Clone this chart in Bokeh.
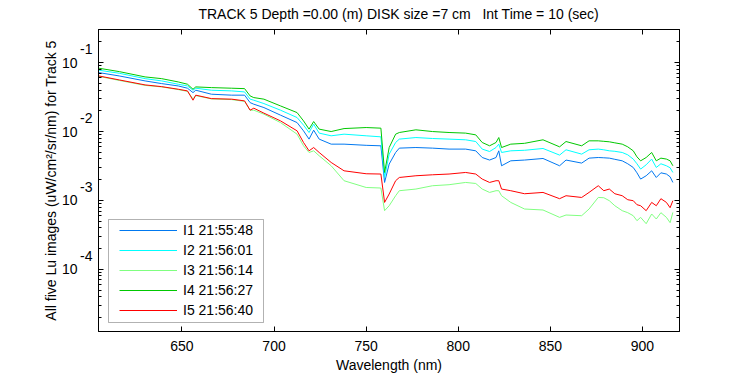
from bokeh.plotting import figure
from bokeh.models import (Range1d, LogAxis, LinearAxis, FixedTicker, LogScale,
                          Legend, LegendItem, BoxAnnotation)
from bokeh.embed import file_html
from bokeh.resources import INLINE

# ---------------- data ----------------
wavelength = [605, 616, 630, 639, 648, 653, 656, 657.5, 666, 677,
              684, 687, 689, 694.5, 703.5, 712.5, 716, 719, 721.5, 724.5,
              731, 738, 750, 758, 760, 762.5, 766, 768, 777, 786,
              795, 804, 809.5, 813, 817, 820.5, 822, 823.5, 828.5, 836,
              846, 855, 858.5, 867, 871, 876, 879, 882, 885, 889,
              892, 895, 897, 899, 902, 905, 907.5, 910, 913, 915,
              916.5]

# values given as exponents (log10 of Lu, uW/cm^2/sr/nm)
i1_log10 = [-1.145, -1.193, -1.265, -1.304, -1.338, -1.371, -1.435, -1.400, -1.458, -1.472,
            -1.472, -1.580, -1.603, -1.652, -1.762, -1.870, -1.990, -2.110, -1.980, -2.110,
            -2.183, -2.183, -2.200, -2.207, -2.739, -2.472, -2.304, -2.241, -2.232, -2.241,
            -2.255, -2.255, -2.280, -2.377, -2.414, -2.377, -2.280, -2.497, -2.425, -2.414,
            -2.391, -2.497, -2.414, -2.458, -2.386, -2.377, -2.381, -2.386, -2.403, -2.425,
            -2.468, -2.522, -2.599, -2.690, -2.642, -2.570, -2.667, -2.599, -2.617, -2.657,
            -2.739]
i2_log10 = [-1.110, -1.154, -1.232, -1.265, -1.313, -1.338, -1.400, -1.371, -1.400, -1.410,
            -1.425, -1.530, -1.545, -1.594, -1.690, -1.797, -1.907, -2.014, -1.893, -2.023,
            -2.062, -2.038, -2.062, -2.077, -2.667, -2.328, -2.159, -2.110, -2.087, -2.101,
            -2.110, -2.120, -2.145, -2.255, -2.290, -2.232, -2.183, -2.304, -2.280, -2.272,
            -2.246, -2.342, -2.265, -2.328, -2.265, -2.255, -2.265, -2.280, -2.287, -2.304,
            -2.338, -2.400, -2.468, -2.545, -2.483, -2.400, -2.522, -2.468, -2.497, -2.526,
            -2.594]
i3_log10 = [-1.200, -1.258, -1.330, -1.352, -1.391, -1.417, -1.526, -1.478, -1.526, -1.536,
            -1.562, -1.690, -1.690, -1.748, -1.870, -2.038, -2.207, -2.304, -2.280, -2.352,
            -2.497, -2.714, -2.812, -2.820, -3.149, -3.077, -2.932, -2.859, -2.835, -2.787,
            -2.772, -2.739, -2.754, -2.835, -2.884, -2.859, -2.859, -2.932, -3.029, -3.125,
            -3.139, -3.246, -3.212, -3.222, -3.125, -2.957, -2.961, -3.004, -3.077, -3.149,
            -3.178, -3.222, -3.294, -3.246, -3.338, -3.197, -3.270, -3.178, -3.246, -3.323,
            -3.174]
i4_log10 = [-1.081, -1.130, -1.207, -1.232, -1.280, -1.313, -1.386, -1.352, -1.362, -1.371,
            -1.377, -1.483, -1.507, -1.530, -1.628, -1.725, -1.845, -1.965, -1.855, -1.965,
            -2.000, -1.957, -1.942, -1.951, -2.594, -2.232, -2.038, -2.014, -1.975, -2.000,
            -2.014, -2.023, -2.048, -2.159, -2.207, -2.159, -2.087, -2.232, -2.183, -2.171,
            -2.120, -2.222, -2.145, -2.207, -2.135, -2.135, -2.142, -2.149, -2.164, -2.183,
            -2.222, -2.280, -2.367, -2.425, -2.377, -2.304, -2.425, -2.386, -2.400, -2.425,
            -2.497]
i5_log10 = [-1.193, -1.251, -1.323, -1.348, -1.386, -1.410, -1.545, -1.472, -1.522, -1.530,
            -1.555, -1.690, -1.661, -1.733, -1.845, -1.990, -2.159, -2.280, -2.232, -2.304,
            -2.449, -2.570, -2.613, -2.617, -3.029, -2.907, -2.714, -2.667, -2.642, -2.628,
            -2.617, -2.594, -2.617, -2.690, -2.739, -2.714, -2.714, -2.835, -2.859, -2.903,
            -2.884, -2.975, -2.932, -2.957, -2.884, -2.787, -2.859, -2.835, -2.903, -2.932,
            -2.990, -3.004, -3.062, -3.077, -3.149, -3.029, -3.077, -2.975, -3.029, -3.106,
            -3.004]

series_names = ["I1 21:55:48", "I2 21:56:01", "I3 21:56:14", "I4 21:56:27", "I5 21:56:40"]
series_colors = ["#0078f0", "#00ffff", "#80ff80", "#00c800", "#ff0000"]
series_log10 = [i1_log10, i2_log10, i3_log10, i4_log10, i5_log10]

x_ticks = [650, 700, 750, 800, 850, 900]
y_major = [1e-1, 1e-2, 1e-3, 1e-4]
y_exponents = ["-1", "-2", "-3", "-4"]
y_minor = [m * 10.0 ** e for e in range(-5, 0) for m in range(2, 10)]

title_text = "TRACK 5 Depth =0.00 (m) DISK size =7 cm\u00a0\u00a0 Int Time = 10 (sec)"
x_label = "Wavelength (nm)"
y_label = "All five Lu images (uW/cm\u00b2/sr/nm) for Track 5"

FONT = "Liberation Sans"
FS = "14px"

x_lo, x_hi = 604.7, 920.1
y_lo, y_hi = 1.25e-5, 0.303
sup_shift = 10 ** -0.1986   # raises the exponent labels (superscript look)

p = figure(width=750, height=375, y_axis_type="log",
           x_range=Range1d(x_lo, x_hi), y_range=Range1d(y_lo, y_hi),
           output_backend="svg", toolbar_location=None,
           min_border_left=98, min_border_right=71,
           min_border_top=29, min_border_bottom=44)
p.title = None
p.extra_y_ranges = {"sup": Range1d(y_lo * sup_shift, y_hi * sup_shift)}
p.extra_y_scales = {"sup": LogScale()}
p.background_fill_color = "white"
p.border_fill_color = "white"
p.outline_line_color = "black"
p.grid.visible = False

yt = FixedTicker(ticks=y_major, minor_ticks=y_minor)
xt = FixedTicker(ticks=x_ticks)


def style_axis(ax):
    ax.axis_line_color = "black"
    ax.major_tick_in = 5
    ax.major_tick_out = 0
    ax.minor_tick_in = 3
    ax.minor_tick_out = 0
    ax.major_tick_line_color = "black"
    ax.minor_tick_line_color = "black"
    ax.major_label_text_font = FONT
    ax.major_label_text_font_size = FS
    ax.major_label_text_color = "black"
    ax.axis_label_text_font = FONT
    ax.axis_label_text_font_size = FS
    ax.axis_label_text_font_style = "normal"
    ax.axis_label_text_color = "black"


def label_only(ax):
    style_axis(ax)
    ax.axis_line_color = None
    ax.major_tick_line_color = None
    ax.minor_tick_line_color = None
    ax.major_tick_in = 0
    ax.minor_tick_in = 0


xa = p.xaxis[0]
xa.ticker = xt
style_axis(xa)
xa.minor_tick_line_color = None
xa.major_label_standoff = 9
xa.axis_label = x_label
xa.axis_label_standoff = 3

# left: ticks axis (nearest frame), then exponent labels, then "10" labels + axis title
ya = p.yaxis[0]
ya.ticker = yt
style_axis(ya)
ya.major_label_overrides = {v: "" for v in y_major}
ya.major_label_standoff = 0

exp_axis = LogAxis(y_range_name="sup", ticker=FixedTicker(ticks=y_major, minor_ticks=[]))
label_only(exp_axis)
exp_axis.major_label_overrides = {v: e for v, e in zip(y_major, y_exponents)}
exp_axis.major_label_standoff = 6
p.add_layout(exp_axis, "left")

base_axis = LogAxis(ticker=FixedTicker(ticks=y_major, minor_ticks=[]))
label_only(base_axis)
base_axis.major_label_overrides = {v: "10" for v in y_major}
base_axis.major_label_standoff = 0
base_axis.axis_label = y_label
base_axis.axis_label_standoff = 0
p.add_layout(base_axis, "left")

ra = LogAxis(ticker=yt)
style_axis(ra)
ra.major_label_overrides = {v: "" for v in y_major}
ra.major_label_standoff = 0
p.add_layout(ra, "right")

# top axis carries the chart title as its label
ta = LinearAxis(ticker=xt)
style_axis(ta)
ta.major_label_overrides = {v: "" for v in x_ticks}
ta.minor_tick_line_color = None
ta.major_label_standoff = 0
ta.axis_label = "\u00a0" * 5 + title_text
ta.axis_label_standoff = 8
p.add_layout(ta, "above")

renderers = []
for logs, col in zip(series_log10, series_colors):
    vals = [10.0 ** v for v in logs]
    r = p.line(wavelength, vals, line_color=col, line_width=1)
    renderers.append(r)

box = BoxAnnotation(left=10, right=165, bottom=9, top=112,
                    left_units="screen", right_units="screen",
                    bottom_units="screen", top_units="screen",
                    fill_color="white", fill_alpha=1.0,
                    line_color="black", line_width=1)
p.add_layout(box)

legend = Legend(items=[LegendItem(label=n, renderers=[r]) for n, r in zip(series_names, renderers)],
                location=(21, 11), padding=0, spacing=0, margin=0,
                glyph_width=58, glyph_height=20, label_height=20, label_standoff=6,
                border_line_alpha=0, background_fill_alpha=0,
                label_text_font=FONT, label_text_font_size=FS, label_text_color="black")
p.add_layout(legend)

open("out.html", "w").write(file_html(p, INLINE))
